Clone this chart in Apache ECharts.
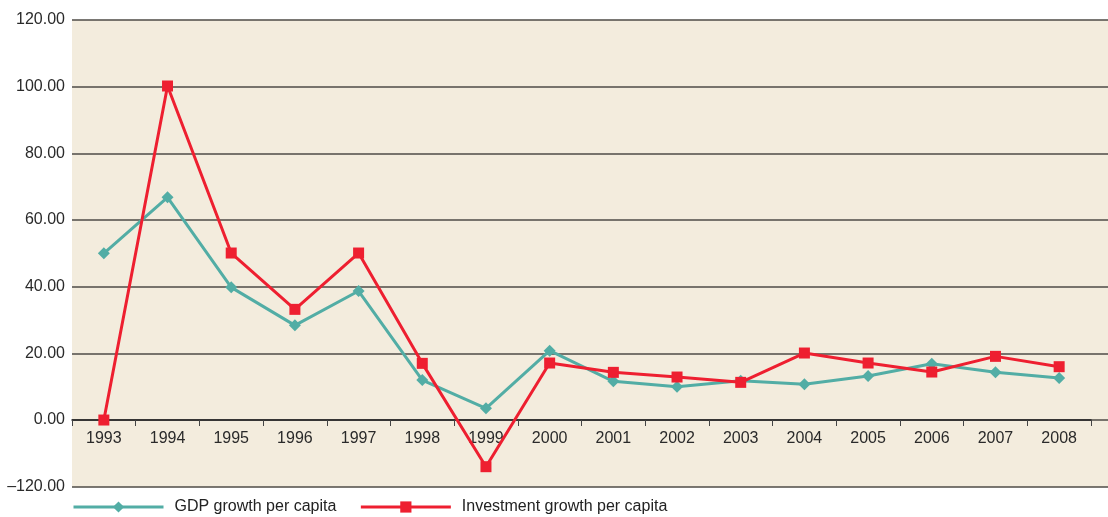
<!DOCTYPE html>
<html>
<head>
<meta charset="utf-8">
<script src="https://cdn.jsdelivr.net/npm/echarts@6/dist/echarts.min.js"></script>
<style>html,body{margin:0;padding:0;background:#fff;}#c{width:1108px;height:517px;}</style>
</head>
<body>
<div id="c"></div>
<script>
var years = ['1993','1994','1995','1996','1997','1998','1999','2000','2001','2002','2003','2004','2005','2006','2007','2008'];
var gdpGrowth = [50.0, 66.8, 39.8, 28.4, 38.7, 12.0, 3.5, 20.8, 11.6, 10.0, 11.8, 10.7, 13.2, 16.9, 14.3, 12.6];
var investmentGrowth = [0.0, 100.2, 50.1, 33.2, 50.1, 17.0, -14.0, 17.1, 14.3, 12.9, 11.3, 20.1, 17.1, 14.4, 19.1, 16.0];
var yTickValues = [-20, 0, 20, 40, 60, 80, 100, 120];
var yTickLabels = ['\u2013120.00', '0.00', '20.00', '40.00', '60.00', '80.00', '100.00', '120.00'];

var font = "'Liberation Sans', Arial, sans-serif";
var chart = echarts.init(document.getElementById('c'));
chart.setOption({
  animation: false,
  textStyle: {fontFamily: font},
  grid: [
    {left: 72, right: 17, top: 20, bottom: 30.3, outerBoundsMode: 'none'},
    {left: 72, right: 0, top: 20, bottom: 30.3, outerBoundsMode: 'none', show: true, backgroundColor: '#f3ecdd', borderWidth: 0},
    {left: 72, right: 17, top: 20, bottom: 97, outerBoundsMode: 'none'}
  ],
  legend: {
    left: 72, top: 499, padding: 0,
    itemWidth: 90, itemHeight: 14, itemGap: 23,
    lineStyle: {width: 3},
    textStyle: {fontFamily: font, fontSize: 16, color: '#222', padding: [0, 0, 0, 6]},
    data: ['GDP growth per capita', 'Investment growth per capita']
  },
  xAxis: [
    {type: 'category', gridIndex: 0, data: years, boundaryGap: true, show: false},
    {type: 'value', gridIndex: 1, min: 0, max: 1, show: false},
    {
      type: 'category', gridIndex: 2, data: years, boundaryGap: true, position: 'bottom',
      axisLine: {show: true, onZero: false, lineStyle: {color: '#222', width: 1.5}},
      axisTick: {show: true, interval: 0, length: 6, lineStyle: {color: '#444', width: 1}},
      axisLabel: {interval: 0, margin: 11, fontSize: 16, color: '#2a2a2a', fontFamily: font},
      splitLine: {show: false}
    }
  ],
  yAxis: [
    {type: 'value', gridIndex: 0, min: -20, max: 120, interval: 20, show: false},
    {
      type: 'value', gridIndex: 1, min: -20, max: 120, interval: 20,
      axisLine: {show: false}, axisTick: {show: false},
      axisLabel: {
        margin: 7, fontSize: 16, color: '#2a2a2a', fontFamily: font,
        formatter: function (v) {
          var i = yTickValues.indexOf(v);
          return i >= 0 ? yTickLabels[i] : '';
        }
      },
      splitLine: {show: true, lineStyle: {color: '#4e4b46', width: 1.5}}
    },
    {type: 'value', gridIndex: 2, min: 0, max: 120, interval: 20, show: false}
  ],
  series: [
    {
      name: 'GDP growth per capita', type: 'line', xAxisIndex: 0, yAxisIndex: 0,
      data: gdpGrowth, symbol: 'diamond', symbolSize: 12,
      lineStyle: {color: '#52ada5', width: 3},
      itemStyle: {color: '#52ada5'}, z: 3
    },
    {
      name: 'Investment growth per capita', type: 'line', xAxisIndex: 0, yAxisIndex: 0,
      data: investmentGrowth, symbol: 'rect', symbolSize: 11,
      lineStyle: {color: '#ee1f30', width: 3},
      itemStyle: {color: '#ee1f30'}, z: 4
    }
  ]
});
</script>
</body>
</html>
